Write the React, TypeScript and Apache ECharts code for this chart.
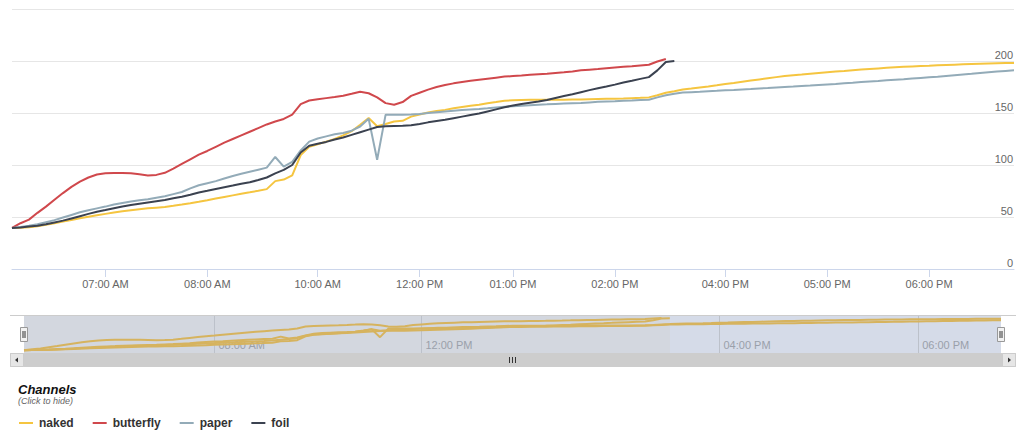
import React, { useEffect, useRef } from "react";
import * as echarts from "echarts";

// Ordinal time categories (data has gaps, axis is ordinal)
const categories: string[] = [
  "06:05 AM", "06:10 AM", "06:15 AM", "06:20 AM", "06:25 AM", "06:30 AM", "06:35 AM", "06:40 AM", "06:45 AM", "06:50 AM", "06:55 AM",
  "07:00 AM", "07:05 AM", "07:10 AM", "07:15 AM", "07:20 AM", "07:25 AM", "07:30 AM", "07:35 AM", "07:40 AM", "07:45 AM", "07:50 AM", "07:55 AM",
  "08:00 AM", "08:05 AM", "08:10 AM", "08:15 AM", "08:20 AM", "08:25 AM", "08:30 AM", "08:35 AM", "08:40 AM", "08:45 AM", "08:50 AM", "08:55 AM",
  "09:55 AM",
  "10:00 AM", "10:05 AM", "10:10 AM", "10:15 AM", "10:20 AM", "10:25 AM", "10:30 AM", "10:35 AM", "10:40 AM", "10:45 AM", "10:50 AM", "10:55 AM",
  "12:00 PM", "12:05 PM", "12:10 PM", "12:15 PM", "12:20 PM", "12:25 PM", "12:30 PM", "12:35 PM", "12:40 PM", "12:45 PM", "12:50 PM",
  "01:00 PM", "01:05 PM", "01:10 PM", "01:15 PM", "01:20 PM", "01:25 PM", "01:30 PM", "01:35 PM", "01:40 PM", "01:45 PM", "01:50 PM", "01:55 PM",
  "02:00 PM", "02:05 PM", "02:10 PM", "02:15 PM", "02:20 PM", "02:25 PM", "02:30 PM", "02:35 PM", "02:40 PM", "02:45 PM", "02:50 PM", "02:55 PM",
  "03:55 PM",
  "04:00 PM", "04:05 PM", "04:10 PM", "04:15 PM", "04:20 PM", "04:25 PM", "04:30 PM", "04:35 PM", "04:40 PM", "04:45 PM", "04:50 PM", "04:55 PM",
  "05:00 PM", "05:05 PM", "05:10 PM", "05:15 PM", "05:20 PM", "05:25 PM", "05:30 PM", "05:35 PM", "05:40 PM", "05:45 PM", "05:50 PM", "05:55 PM",
  "06:00 PM", "06:05 PM", "06:10 PM", "06:15 PM", "06:20 PM", "06:25 PM", "06:30 PM", "06:35 PM", "06:40 PM", "06:45 PM", "06:50 PM",
];

const navigatorLabels: string[] = ["08:00 AM", "12:00 PM", "04:00 PM", "06:00 PM"];

const naked: number[] = [
  39.5, 39.7, 40.2, 41.2, 42.5, 44, 45.6, 47.2, 48.8, 50.3, 51.7,
  53, 54.3, 55.5, 56.6, 57.5, 58.3, 59, 59.7, 60.8, 62, 63.3, 64.7,
  66.2, 67.8, 69.3, 70.8, 72.3, 73.7, 75.2, 76.8, 84.5, 86, 90, 109.5,
  117.5,
  120, 122.5, 125, 128.5, 132.5, 138.7, 145.2, 137.3, 139.5, 141.9, 142.5, 146.5,
  148.5, 150.5, 152, 153, 154.5, 155.8, 157, 158, 159.3, 160.5, 161.8,
  162.3, 162.6, 162.8, 162.8, 162.8, 162.8, 162.8, 162.9, 163, 163.2, 163.4, 163.6,
  163.8, 164, 164.3, 164.6, 165, 167, 169.5, 171, 172.6, 173.5, 174.5, 175.5,
  176.6,
  177.8, 178.8, 180, 181.2, 182.3, 183.4, 184.5, 185.5, 186.3, 187, 187.8, 188.5,
  189.2, 189.9, 190.5, 191.2, 191.8, 192.4, 192.9, 193.4, 193.9, 194.4, 194.8, 195.2,
  195.5, 195.9, 196.2, 196.5, 196.8, 197.1, 197.4, 197.6, 197.8, 198, 198.1,
];

const butterfly: number[] = [
  39.5, 44, 47.5, 54, 60, 66.5, 73, 79, 84, 88, 90.8,
  92, 92.3, 92.3, 92, 91, 90, 90.5, 92.5, 96.5, 101, 105.5, 110,
  113.5, 117.5, 121.5, 125, 128.5, 132, 135.5, 139, 141.8, 144.3, 148.5, 158.5,
  162,
  163.2, 164.3, 165.3, 166.6, 168.5, 170.5, 169, 165, 159.5, 158, 160.5, 166.5,
  169.5, 172.5, 175, 177, 178.5, 179.8, 181, 182, 183, 184, 185,
  185.5, 186, 186.7, 187.3, 187.8, 188.5, 189.2, 190, 191, 191.7, 192.3, 193,
  193.7, 194.4, 195, 195.7, 196.4, 199.5, 202,
];

const paper: number[] = [
  39.5, 40.5, 41.5, 43, 45, 47, 49.5, 52, 54.5, 56.5, 58.3,
  60, 62, 63.5, 64.8, 66, 67, 68.5, 70, 72, 74, 77.5, 80.5,
  82.5, 84.5, 87, 89.5, 91.5, 93.5, 95.5, 97.5, 107.7, 98.5, 103, 114,
  122.5,
  125.5, 127.5, 129.5, 130.8, 133, 137, 144.5, 105, 148.4, 148.4, 148.4, 148.5,
  149, 150, 150.8, 151.5, 152.2, 152.8, 153.4, 153.8, 154.5, 155.3, 156,
  156.5, 157, 157.5, 158, 158.3, 158.7, 159.1, 159.4, 159.7, 160.2, 160.7, 161,
  161.3, 161.7, 162, 162.4, 162.8, 165, 167, 168.5, 169.6, 170, 170.4, 170.9,
  171.3,
  171.8, 172.2, 172.7, 173.1, 173.6, 174, 174.5, 175, 175.4, 175.9, 176.4, 177,
  177.5, 178, 178.6, 179.1, 179.7, 180.3, 180.8, 181.4, 182, 182.5, 183.1, 183.7,
  184.3, 184.9, 185.6, 186.3, 187, 187.7, 188.4, 189.1, 189.8, 190.4, 191,
];

const foil: number[] = [
  39.5, 40, 40.8, 41.5, 43, 44.8, 46.5, 48.5, 50.8, 53, 55,
  56.7, 58.5, 60, 61.5, 62.8, 64, 65.2, 66.3, 68, 69.5, 71.4, 73.5,
  75.2, 77, 78.7, 80.2, 82, 83.5, 85.5, 88, 92, 95.3, 100, 112,
  118.5,
  120.5, 122.2, 124.5, 126.5, 129, 131.5, 134, 136.5, 137.3, 137.6, 137.8, 138.2,
  139.5, 141, 142.3, 143.5, 145, 146.5, 148, 149.5, 151.5, 153.5, 155.5,
  157.2, 158.6, 159.8, 161, 162.5, 164.5, 166.3, 168, 170, 172, 173.8, 175.5,
  177.3, 179.3, 181, 182.8, 184.5, 191, 199, 200,
];

const seriesNames = ["naked", "butterfly", "paper", "foil"];
const seriesData = [naked, butterfly, paper, foil];
const seriesColors = ["#f5c540", "#d0484c", "#93abb8", "#3b4250"];

const FONT = '"Liberation Sans", Arial, Helvetica, sans-serif';

export default function App() {
  const ref = useRef<HTMLDivElement>(null);

  useEffect(() => {
    if (!ref.current) return;
    const chart = echarts.init(ref.current, undefined, { renderer: "svg" });

    const isHour = (_i: number, v: string) => v.slice(3, 5) === "00";
    const isNavLabel = (_i: number, v: string) => navigatorLabels.includes(v);

    const mainSeries = seriesNames.map((name, k) => ({
      name,
      type: "line",
      xAxisIndex: 0,
      yAxisIndex: 0,
      data: seriesData[k],
      showSymbol: false,
      symbol: "none",
      color: seriesColors[k],
      lineStyle: { width: 2, color: seriesColors[k] },
      z: 3,
    }));

    const navSeries = seriesNames.map((name, k) => ({
      name: "nav " + name,
      type: "line",
      xAxisIndex: 1,
      yAxisIndex: 1,
      data: seriesData[k],
      showSymbol: false,
      symbol: "none",
      silent: true,
      lineStyle: { width: 2, color: "#d6b35e" },
      z: 3,
    }));

    const option: any = {
      animation: false,
      textStyle: { fontFamily: FONT },
      grid: [
        { left: 12, right: 10, top: 9, bottom: 161 },
        { left: 24, right: 23, top: 316, bottom: 77 },
      ],
      xAxis: [
        {
          type: "category",
          gridIndex: 0,
          data: categories,
          boundaryGap: false,
          axisLine: { lineStyle: { color: "#ccd6eb" } },
          axisTick: { show: true, interval: isHour, length: 8, lineStyle: { color: "#ccd6eb" } },
          axisLabel: { interval: isHour, color: "#666", fontSize: 11, margin: 9, fontFamily: FONT },
          splitLine: { show: false },
        },
        {
          type: "category",
          gridIndex: 1,
          data: categories,
          boundaryGap: false,
          axisLine: { show: false },
          axisTick: { show: false },
          axisLabel: {
            interval: isNavLabel,
            inside: true,
            align: "left",
            verticalAlign: "bottom",
            padding: [0, 0, 3, 4],
            margin: 0,
            color: "#9aa0aa",
            fontSize: 11,
            fontFamily: FONT,
          },
          splitLine: { show: true, interval: isNavLabel, lineStyle: { color: "#bcc1ca", width: 1 } },
        },
      ],
      yAxis: [
        {
          type: "value",
          gridIndex: 0,
          position: "right",
          min: 0,
          max: 250,
          interval: 50,
          axisLine: { show: false },
          axisTick: { show: false },
          axisLabel: {
            inside: true,
            showMaxLabel: false,
            verticalAlign: "bottom",
            margin: 1,
            padding: [0, 0, 1, 0],
            color: "#666",
            fontSize: 11,
            fontFamily: FONT,
          },
          splitLine: { lineStyle: { color: "#e6e6e6" } },
        },
        {
          type: "value",
          gridIndex: 1,
          min: 25,
          max: 212,
          show: false,
          splitLine: { show: false },
        },
      ],
      legend: {
        data: seriesNames,
        left: 14,
        top: 412,
        icon: "rect",
        itemWidth: 14,
        itemHeight: 2,
        itemGap: 19,
        textStyle: { fontWeight: "bold", fontSize: 12, color: "#333", fontFamily: FONT, padding: [0, 0, 0, 1] },
      },
      graphic: [
        { type: "rect", z: -10, shape: { x: 24, y: 316, width: 646, height: 37 }, style: { fill: "#d3d7df" } },
        { type: "rect", z: -10, shape: { x: 670, y: 316, width: 331, height: 37 }, style: { fill: "#d5dbe8" } },
        { type: "line", z: 5, shape: { x1: 10, y1: 315.5, x2: 1016, y2: 315.5 }, style: { stroke: "#cccccc", lineWidth: 1 } },
        { type: "rect", z: 5, shape: { x: 10, y: 353, width: 1006, height: 14 }, style: { fill: "#cdcdcd" } },
        { type: "rect", z: 6, shape: { x: 10.5, y: 353.5, width: 13, height: 13 }, style: { fill: "#e6e6e6", stroke: "#cccccc", lineWidth: 1 } },
        { type: "polygon", z: 7, shape: { points: [[18, 357.5], [18, 362.5], [15, 360]] }, style: { fill: "#333" } },
        { type: "rect", z: 6, shape: { x: 1002.5, y: 353.5, width: 13, height: 13 }, style: { fill: "#e6e6e6", stroke: "#cccccc", lineWidth: 1 } },
        { type: "polygon", z: 7, shape: { points: [[1008, 357.5], [1008, 362.5], [1011, 360]] }, style: { fill: "#333" } },
        { type: "line", z: 7, shape: { x1: 509.5, y1: 357, x2: 509.5, y2: 363 }, style: { stroke: "#333", lineWidth: 1 } },
        { type: "line", z: 7, shape: { x1: 512.5, y1: 357, x2: 512.5, y2: 363 }, style: { stroke: "#333", lineWidth: 1 } },
        { type: "line", z: 7, shape: { x1: 515.5, y1: 357, x2: 515.5, y2: 363 }, style: { stroke: "#333", lineWidth: 1 } },
        { type: "rect", z: 8, shape: { x: 20.5, y: 327.5, width: 7, height: 14 }, style: { fill: "#f2f2f2", stroke: "#999", lineWidth: 1 } },
        { type: "line", z: 9, shape: { x1: 23, y1: 331, x2: 23, y2: 338 }, style: { stroke: "#333", lineWidth: 1 } },
        { type: "line", z: 9, shape: { x1: 25, y1: 331, x2: 25, y2: 338 }, style: { stroke: "#333", lineWidth: 1 } },
        { type: "rect", z: 8, shape: { x: 997.5, y: 327.5, width: 7, height: 14 }, style: { fill: "#f2f2f2", stroke: "#999", lineWidth: 1 } },
        { type: "line", z: 9, shape: { x1: 1000, y1: 331, x2: 1000, y2: 338 }, style: { stroke: "#333", lineWidth: 1 } },
        { type: "line", z: 9, shape: { x1: 1002, y1: 331, x2: 1002, y2: 338 }, style: { stroke: "#333", lineWidth: 1 } },
        {
          type: "text",
          x: 18,
          y: 389,
          style: { text: "Channels", fontSize: 13, fontWeight: "bold", fontStyle: "italic", fill: "#111", fontFamily: FONT, verticalAlign: "middle" },
        },
        {
          type: "text",
          x: 18,
          y: 401,
          style: { text: "(Click to hide)", fontSize: 9, fontStyle: "italic", fill: "#666", fontFamily: FONT, verticalAlign: "middle" },
        },
      ],
      series: [...mainSeries, ...navSeries],
    };

    chart.setOption(option);
    return () => chart.dispose();
  }, []);

  return (
    <div
      ref={ref}
      style={{ position: "fixed", left: 0, top: 0, width: 1024, height: 430, background: "#fff" }}
    />
  );
}
